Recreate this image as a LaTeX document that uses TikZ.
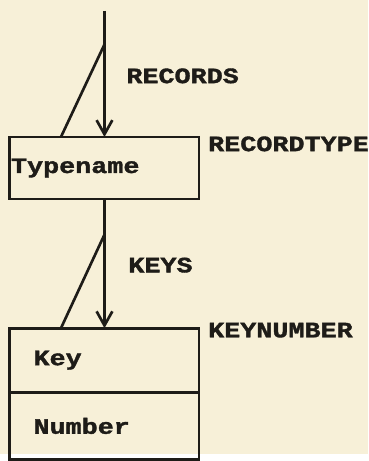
\documentclass[tikz,border=0pt]{standalone}
\usepackage{fontspec}
\newfontfamily\printfont[FakeStretch=1.22,FakeBold=1.6]{Liberation Mono}
\usetikzlibrary{arrows.meta,positioning,calc}
\definecolor{Paper}{HTML}{F7F0D8}
\definecolor{Ink}{HTML}{1E1C18}

\tikzset{
  txt/.style={font=\printfont\bfseries\fontsize{19}{21}\selectfont,text=Ink},
  recbox/.style={txt,draw=Ink,line width=2.4pt,outer sep=0pt,minimum width=5.76cm,
    align=left,text width=5.76cm-#1*2,inner xsep=#1,inner ysep=0pt},
  recbox/.default=1pt,
  lbl/.style={txt,anchor=west,inner sep=0pt},
  link/.style={Ink,line width=2.3pt,-{Straight Barb[length=4.3mm,width=4.8mm]}},
  tick/.style={Ink,line width=2.3pt},
}

\begin{document}
\begin{tikzpicture}[x=0.03cm,y=-0.03cm]
  \fill[Paper] (0,0) rectangle (373,461);

  % record type box
  \node[recbox,minimum height=1.89cm] (rectype) at (106,170.5) {Typename};
  \node[lbl] (rectypelbl) at (211,146) {RECORDTYPE};

  % key number box, two cells
  \node[recbox=0.72cm,minimum height=1.95cm] (key) at (106,365.5) {Key};
  \node[recbox=0.72cm,minimum height=2.05cm,below=0pt of key] (number) {Number};
  \node[lbl] (keynumlbl) at (211,335) {KEYNUMBER};

  % records set
  \coordinate (src) at (106,11);
  \draw[link] (src) -- (rectype.north);
  \coordinate (recfork) at ($(src)!0.266!(rectype.north)$);
  \draw[tick] (recfork) -- ($(rectype.north west)!0.27!(rectype.north east)$);
  \node[lbl] (records) at (128,77) {RECORDS};

  % keys set
  \draw[link] (rectype.south) -- (key.north);
  \coordinate (keyfork) at ($(rectype.south)!0.275!(key.north)$);
  \draw[tick] (keyfork) -- ($(key.north west)!0.27!(key.north east)$);
  \node[lbl] (keys) at (130,269) {KEYS};
\end{tikzpicture}
\end{document}
